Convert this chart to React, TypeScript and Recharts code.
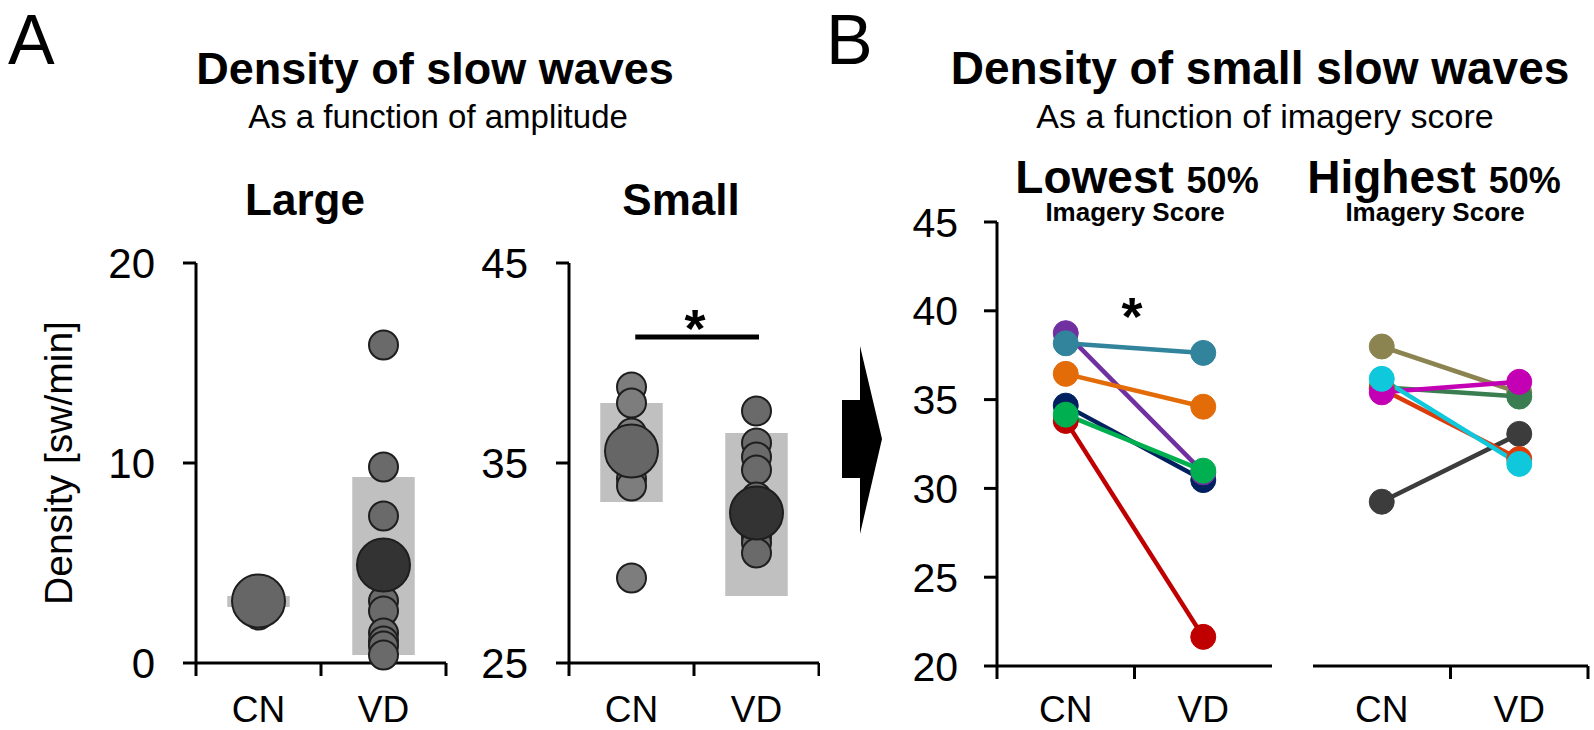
import React from "react";
import {
  ComposedChart,
  Scatter,
  Line,
  XAxis,
  YAxis,
  ReferenceArea,
  ReferenceLine,
} from "recharts";

const FONT = '"Liberation Sans", Arial, Helvetica, sans-serif';

const groups = ["CN", "VD"];

// A: large slow waves (sw/min)
const largeCN = [2.4, 2.8, 3.0, 3.1, 3.2, 3.4, 3.6];
const largeVD = [15.9, 9.8, 7.35, 5.3, 4.5, 3.1, 2.6, 1.5, 1.1, 0.85, 0.4];
const largeMean = [3.1, 4.9];
const largeLow = [2.8, 0.4];
const largeHigh = [3.35, 9.3];

// A: small slow waves
const smallCN = [38.8, 38.0, 36.5, 36.0, 35.3, 34.8, 34.2, 33.85, 29.25];
const smallVD = [37.6, 36.0, 35.3, 34.65, 33.3, 32.4, 31.8, 31.3, 31.0, 30.5];
const smallMean = [35.6, 32.5];
const smallLow = [33.05, 28.35];
const smallHigh = [38.0, 36.5];
const smallSig = 41.3;

// B: small slow waves by imagery score, CN vs VD pairs
const lowCN = [33.8, 34.66, 38.74, 36.45, 38.17, 34.15];
const lowVD = [21.64, 30.47, 30.9, 34.6, 37.63, 31.0];
const highCN = [29.25, 37.99, 35.7, 35.6, 35.41, 36.17];
const highVD = [33.07, 35.4, 35.17, 31.65, 36.0, 31.38];

const lowColors = ["#c00000", "#002060", "#7030a0", "#e36c09", "#31849b", "#00b050"];
const highColors = ["#3c3c3c", "#8c8450", "#3a7d50", "#dc3c0a", "#c400b4", "#10c8dc"];

const pts = (vals: number[], pos: number) => vals.map((y) => ({ x: pos, y }));

const XTick = (props: any) => {
  const { x, payload, axisY, lineTicks } = props;
  const v = payload.value;
  if (Number.isInteger(v)) {
    if (!lineTicks.includes(v)) return <g />;
    return <line x1={x} x2={x} y1={axisY} y2={axisY + 13} stroke="#000" strokeWidth={3} />;
  }
  return (
    <text x={x} y={722} textAnchor="middle" fontSize={37} fontFamily={FONT} fill="#000">
      {groups[Math.floor(v)]}
    </text>
  );
};

function dot(r: number, fill: string) {
  return (p: any) => <circle cx={p.cx} cy={p.cy} r={r} fill={fill} stroke="#1e1e1e" strokeWidth={2} />;
}

interface DotPanelProps {
  left: number;
  width: number;
  yWidth: number;
  domain: [number, number];
  ticks: number[];
  cn: number[];
  vd: number[];
  mean: number[];
  low: number[];
  high: number[];
  cnFill: string;
  vdFill: string;
  sig?: number;
}

function DotPanel(p: DotPanelProps) {
  const top = 263;
  const bottom = 663;
  return (
    <div style={{ position: "absolute", left: p.left, top: 0 }}>
      <ComposedChart
        width={p.width}
        height={730}
        margin={{ top, right: p.width - p.yWidth - 250, bottom: 0, left: 0 }}
      >
        <XAxis
          type="number"
          dataKey="x"
          domain={[0, 2]}
          ticks={[0, 0.5, 1, 1.5, 2]}
          interval={0}
          height={730 - bottom}
          axisLine={{ stroke: "#000", strokeWidth: 3 }}
          tickLine={false}
          tickSize={13}
          tick={(t: any) => <XTick {...t} axisY={bottom} lineTicks={[0, 1, 2]} />}
        />
        <YAxis
          type="number"
          dataKey="y"
          domain={p.domain}
          ticks={p.ticks}
          width={p.yWidth}
          axisLine={{ stroke: "#000", strokeWidth: 3 }}
          tickLine={{ stroke: "#000", strokeWidth: 3 }}
          tickSize={13}
          tickMargin={28}
          tick={{ fill: "#000", fontSize: 42, fontFamily: FONT }}
        />
        {groups.map((g, i) => (
          <ReferenceArea
            key={g}
            x1={i + 0.25}
            x2={i + 0.75}
            y1={p.low[i]}
            y2={p.high[i]}
            fill="#c0c0c0"
            fillOpacity={1}
            stroke="none"
          />
        ))}
        {p.sig !== undefined && (
          <ReferenceLine
            segment={[
              { x: 0.53, y: p.sig },
              { x: 1.52, y: p.sig },
            ]}
            stroke="#000"
            strokeWidth={5}
          />
        )}
        <Scatter data={pts(p.cn, 0.5)} shape={dot(14.5, p.cnFill)} isAnimationActive={false} />
        <Scatter data={pts(p.vd, 1.5)} shape={dot(14.5, p.vdFill)} isAnimationActive={false} />
        <Scatter data={pts([p.mean[0]], 0.5)} shape={dot(26.5, "#666666")} isAnimationActive={false} />
        <Scatter data={pts([p.mean[1]], 1.5)} shape={dot(26.5, "#333333")} isAnimationActive={false} />
      </ComposedChart>
    </div>
  );
}

interface PairPanelProps {
  left: number;
  width: number;
  yWidth: number;
  showY: boolean;
  cn: number[];
  vd: number[];
  colors: string[];
  lineTicks: number[];
}

function PairPanel(p: PairPanelProps) {
  const top = 222;
  const bottom = 666;
  const mLeft = p.showY ? 0 : p.yWidth;
  return (
    <div style={{ position: "absolute", left: p.left, top: 0 }}>
      <ComposedChart
        width={p.width}
        height={730}
        margin={{ top, right: p.width - p.yWidth - 275, bottom: 0, left: mLeft }}
      >
        <XAxis
          type="number"
          dataKey="x"
          domain={[0, 2]}
          ticks={[0, 0.5, 1, 1.5, 2]}
          interval={0}
          height={730 - bottom}
          axisLine={{ stroke: "#000", strokeWidth: 3 }}
          tickLine={false}
          tickSize={13}
          tick={(t: any) => <XTick {...t} axisY={bottom} lineTicks={p.lineTicks} />}
        />
        <YAxis
          type="number"
          dataKey="y"
          domain={[20, 45]}
          ticks={[20, 25, 30, 35, 40, 45]}
          hide={!p.showY}
          width={p.yWidth}
          axisLine={{ stroke: "#000", strokeWidth: 3 }}
          tickLine={{ stroke: "#000", strokeWidth: 3 }}
          tickSize={13}
          tickMargin={26}
          tick={{ fill: "#000", fontSize: 41, fontFamily: FONT }}
        />
        {p.cn.map((c, i) => (
          <Line
            key={i}
            data={[
              { x: 0.5, y: c },
              { x: 1.5, y: p.vd[i] },
            ]}
            dataKey="y"
            type="linear"
            stroke={p.colors[i]}
            strokeWidth={4.5}
            dot={{ r: 12.5, fill: p.colors[i], stroke: p.colors[i], strokeWidth: 1 }}
            activeDot={false}
            isAnimationActive={false}
          />
        ))}
      </ComposedChart>
    </div>
  );
}

export default function App() {
  const bold = { fontFamily: FONT, fontWeight: 700, fill: "#000" } as const;
  const reg = { fontFamily: FONT, fontWeight: 400, fill: "#000" } as const;
  return (
    <div style={{ position: "absolute", left: 0, top: 0, width: 1594, height: 730, background: "#fff", overflow: "hidden" }}>
      <DotPanel
        left={0}
        width={470}
        yWidth={196}
        domain={[0, 20]}
        ticks={[0, 10, 20]}
        cn={largeCN}
        vd={largeVD}
        mean={largeMean}
        low={largeLow}
        high={largeHigh}
        cnFill="#6a6a6a"
        vdFill="#6a6a6a"
      />
      <DotPanel
        left={460}
        width={360}
        yWidth={109}
        domain={[25, 45]}
        ticks={[25, 35, 45]}
        cn={smallCN}
        vd={smallVD}
        mean={smallMean}
        low={smallLow}
        high={smallHigh}
        cnFill="#7d7d7d"
        vdFill="#6a6a6a"
        sig={smallSig}
      />
      <PairPanel left={880} width={400} yWidth={117} showY cn={lowCN} vd={lowVD} colors={lowColors} lineTicks={[0, 1]} />
      <PairPanel left={1290} width={304} yWidth={23} showY={false} cn={highCN} vd={highVD} colors={highColors} lineTicks={[1, 2]} />

      <svg width={1594} height={730} style={{ position: "absolute", left: 0, top: 0, pointerEvents: "none" }}>
        <text x={8} y={64} fontSize={70} {...reg}>A</text>
        <text x={826} y={64} fontSize={70} {...reg}>B</text>

        <text x={435} y={84} fontSize={45} textAnchor="middle" {...bold}>Density of slow waves</text>
        <text x={438} y={128} fontSize={33} textAnchor="middle" {...reg}>As a function of amplitude</text>
        <text x={305} y={215} fontSize={44} textAnchor="middle" {...bold}>Large</text>
        <text x={681} y={215} fontSize={44} textAnchor="middle" {...bold}>Small</text>
        <text transform="translate(72,463) rotate(-90)" fontSize={39} textAnchor="middle" {...reg}>Density [sw/min]</text>
        <text x={695} y={347} fontSize={54} textAnchor="middle" {...bold}>*</text>

        <polygon points="842,400 860,400 860,346 882,439 860,534 860,478 842,478" fill="#000" />

        <text x={1260} y={84} fontSize={46} textAnchor="middle" {...bold}>Density of small slow waves</text>
        <text x={1265} y={128} fontSize={34} textAnchor="middle" {...reg}>As a function of imagery score</text>
        <text x={1137} y={193} textAnchor="middle" {...bold}>
          <tspan fontSize={46}>Lowest </tspan>
          <tspan fontSize={36}>50%</tspan>
        </text>
        <text x={1135} y={221} fontSize={26} textAnchor="middle" {...bold}>Imagery Score</text>
        <text x={1434} y={193} textAnchor="middle" {...bold}>
          <tspan fontSize={46}>Highest </tspan>
          <tspan fontSize={36}>50%</tspan>
        </text>
        <text x={1435} y={221} fontSize={26} textAnchor="middle" {...bold}>Imagery Score</text>
        <text x={1132} y={335} fontSize={54} textAnchor="middle" {...bold}>*</text>
      </svg>
    </div>
  );
}
